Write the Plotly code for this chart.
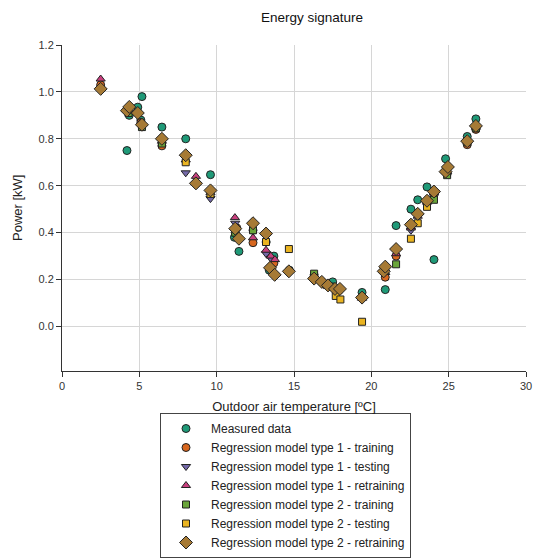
import plotly.graph_objects as go

# Measured data
meas_x = [2.5, 4.2, 4.35, 4.9, 5.17, 5.1, 6.46, 8.0, 8.66, 9.6, 11.15, 11.2, 11.44, 12.35, 13.2, 13.4, 13.7,
          14.7, 16.3, 16.8, 17.2, 17.5, 17.8, 19.4, 20.9, 21.6, 22.56, 23.0, 23.6, 24.05, 24.8, 26.2, 26.76]
meas_y = [1.02, 0.75, 0.90, 0.935, 0.98, 0.88, 0.85, 0.80, 0.61, 0.647, 0.38, 0.40, 0.32, 0.41, 0.36, 0.24, 0.30,
          0.24, 0.22, 0.19, 0.18, 0.19, 0.16, 0.145, 0.157, 0.43, 0.50, 0.54, 0.595, 0.285, 0.715, 0.81, 0.885]

# Regression model type 1
m1_train_x = [2.5, 4.3, 5.1, 6.46, 11.3, 12.35, 13.7, 20.9, 21.6, 24.05, 24.9, 26.2, 26.76]
m1_train_y = [1.03, 0.92, 0.87, 0.77, 0.42, 0.357, 0.27, 0.21, 0.30, 0.56, 0.65, 0.775, 0.84]

m1_test_x = [8.0, 9.6, 11.2, 13.2, 13.5, 22.56]
m1_test_y = [0.655, 0.545, 0.44, 0.31, 0.29, 0.41]

m1_retrain_x = [2.5, 4.4, 5.1, 6.46, 8.0, 8.66, 9.6, 11.18, 12.35, 13.19, 13.5, 13.77, 16.3, 17.2, 17.8,
                19.4, 20.9, 21.6, 22.56, 23.0, 23.6, 24.05, 24.9, 26.2, 26.76]
m1_retrain_y = [1.055, 0.92, 0.87, 0.79, 0.71, 0.64, 0.57, 0.464, 0.378, 0.325, 0.30, 0.285, 0.21, 0.17, 0.15,
                0.12, 0.23, 0.31, 0.42, 0.47, 0.53, 0.57, 0.66, 0.79, 0.85]

# Regression model type 2
m2_train_x = [4.3, 5.17, 6.46, 11.2, 12.35, 16.3, 17.4, 20.9, 21.6, 24.05, 24.9, 26.2, 26.76]
m2_train_y = [0.91, 0.85, 0.78, 0.40, 0.41, 0.225, 0.17, 0.24, 0.265, 0.54, 0.645, 0.785, 0.845]

m2_test_x = [8.0, 9.6, 13.19, 14.67, 17.7, 18.0, 19.4, 22.56, 23.0, 23.6]
m2_test_y = [0.70, 0.565, 0.36, 0.33, 0.13, 0.115, 0.02, 0.374, 0.44, 0.51]

m2_retrain_x = [2.5, 4.2, 4.35, 4.9, 5.17, 6.46, 8.0, 8.66, 9.6, 11.2, 11.44, 12.35, 13.19, 13.45, 13.75,
                14.67, 16.3, 16.8, 17.2, 17.65, 17.97, 19.4, 20.8, 20.9, 21.6, 22.56, 23.0, 23.6, 24.05,
                24.8, 24.95, 26.2, 26.76]
m2_retrain_y = [1.013, 0.92, 0.936, 0.91, 0.86, 0.80, 0.73, 0.61, 0.58, 0.417, 0.374, 0.44, 0.396, 0.25, 0.22,
                0.235, 0.204, 0.19, 0.175, 0.16, 0.16, 0.123, 0.235, 0.255, 0.33, 0.434, 0.48, 0.536, 0.575,
                0.66, 0.68, 0.79, 0.855]

series = [
    ("Measured data", meas_x, meas_y, "circle", 8, "#1f9a78"),
    ("Regression model type 1 - training", m1_train_x, m1_train_y, "circle", 8, "#d8671f"),
    ("Regression model type 1 - testing", m1_test_x, m1_test_y, "triangle-down", 8, "#7469a8"),
    ("Regression model type 1 - retraining", m1_retrain_x, m1_retrain_y, "triangle-up", 8, "#c8407e"),
    ("Regression model type 2 - training", m2_train_x, m2_train_y, "square", 7, "#6aa53a"),
    ("Regression model type 2 - testing", m2_test_x, m2_test_y, "square", 7, "#eab421"),
    ("Regression model type 2 - retraining", m2_retrain_x, m2_retrain_y, "diamond", 10, "#a67a35"),
]

fig = go.Figure()
for name, xs, ys, sym, size, col in series:
    fig.add_trace(go.Scatter(
        x=xs, y=ys, mode="markers", name=name,
        marker=dict(symbol=sym, size=size, color=col, line=dict(color="#222222", width=1)),
    ))

font_family = "Liberation Sans, Arial, sans-serif"
fig.update_layout(
    template="none",
    width=536, height=558,
    margin=dict(l=62, r=10, t=45, b=187, autoexpand=False),
    paper_bgcolor="white", plot_bgcolor="white",
    font=dict(family=font_family, color="#222222", size=11),
    title=dict(text="Energy signature", x=312 / 536, xref="container", xanchor="center",
               y=1 - 17 / 558, yref="container", yanchor="middle",
               font=dict(size=13.5, color="#111111")),
    showlegend=True,
    legend=dict(x=160 / 536, xref="container", y=1 - 413 / 558, yref="container",
                xanchor="left", yanchor="top",
                bordercolor="#444444", borderwidth=1, bgcolor="white",
                font=dict(size=12, color="#222222"), itemwidth=40, tracegroupgap=0),
    annotations=[dict(text="Power [kW]", textangle=-90, xref="paper", yref="paper",
                      x=(17 - 62) / 464, y=0.5, xanchor="center", yanchor="middle",
                      showarrow=False, font=dict(size=13, color="#222222"))],
)
fig.update_xaxes(
    range=[0, 30], tickvals=[0, 5, 10, 15, 20, 25, 30], ticks="outside", ticklen=5,
    tickcolor="#333333", showline=True, linecolor="#333333", linewidth=1, mirror=False,
    showgrid=True, gridcolor="#d6d6d6", gridwidth=1, zeroline=False, automargin=True,
    title=dict(text="Outdoor air temperature [ºC]", font=dict(size=13), standoff=10),
    tickfont=dict(size=11, color="#333333"),
)
fig.update_yaxes(
    range=[-0.19, 1.2], tickvals=[0.0, 0.2, 0.4, 0.6, 0.8, 1.0, 1.2], tickformat=".1f",
    ticks="outside", ticklen=5, tickcolor="#333333", showline=True, linecolor="#333333", linewidth=1,
    mirror=False, showgrid=True, gridcolor="#d6d6d6", gridwidth=1, zeroline=False, automargin=False,
    tickfont=dict(size=11, color="#333333"),
)

fig.write_html("out.html", config={"displayModeBar": False},
               post_script="document.body.style.margin='0px';document.body.style.padding='0px';")
